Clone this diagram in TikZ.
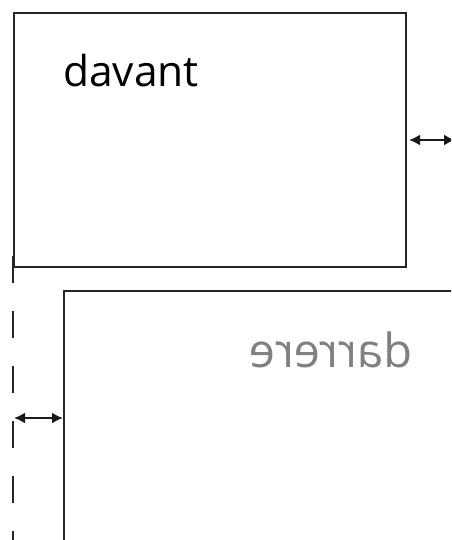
\documentclass[tikz,border=0pt]{standalone}
\usepackage{fontspec}
\setmainfont{Open Sans}
\usetikzlibrary{arrows.meta}
\begin{document}
\begin{tikzpicture}[x=1pt,y=-1pt,
  edge/.style={draw=black!85, line width=2pt},
  dim/.style={draw=black!90, line width=2pt, {Latex[length=11pt,width=11pt]}-{Latex[length=11pt,width=11pt]}},
  lbl/.style={inner sep=0pt, anchor=base west}
]
\useasboundingbox (0,0) rectangle (451,540);
\clip (0,0) rectangle (451,540);
% front panel
\node[edge, minimum width=392pt, minimum height=254pt, inner sep=0pt, anchor=north west] (front) at (13,12) {};
\node[lbl, font=\fontsize{42.5}{44}\selectfont] (davant) at (63,87) {davant};
% back panel (extends beyond page)
\coordinate (bl) at (64,291);
\coordinate (bb) at (64,545);
\coordinate (br) at (460,291);
\draw[edge] (bb) -- (bl) -- (br);
\node[lbl, anchor=base east, text=black!50, font=\fontsize{47}{49}\selectfont] (darrere) at (413,367) {\scalebox{-1}[1]{darrere}};
% left reference line
\coordinate (lt) at (13,256);
\coordinate (lb) at (13,545);
\draw[edge, dash pattern=on 27pt off 28pt] (lt) -- (lb);
% dimension arrows
\coordinate (ra) at (front.east |- 0,140);
\coordinate (rb) at (455,140);
\draw[dim] ([xshift=2pt]ra) -- (rb);
\coordinate (la) at (14,418);
\coordinate (lc) at (bl |- 0,418);
\draw[dim] (la) -- ([xshift=-1pt]lc);
\end{tikzpicture}
\end{document}
